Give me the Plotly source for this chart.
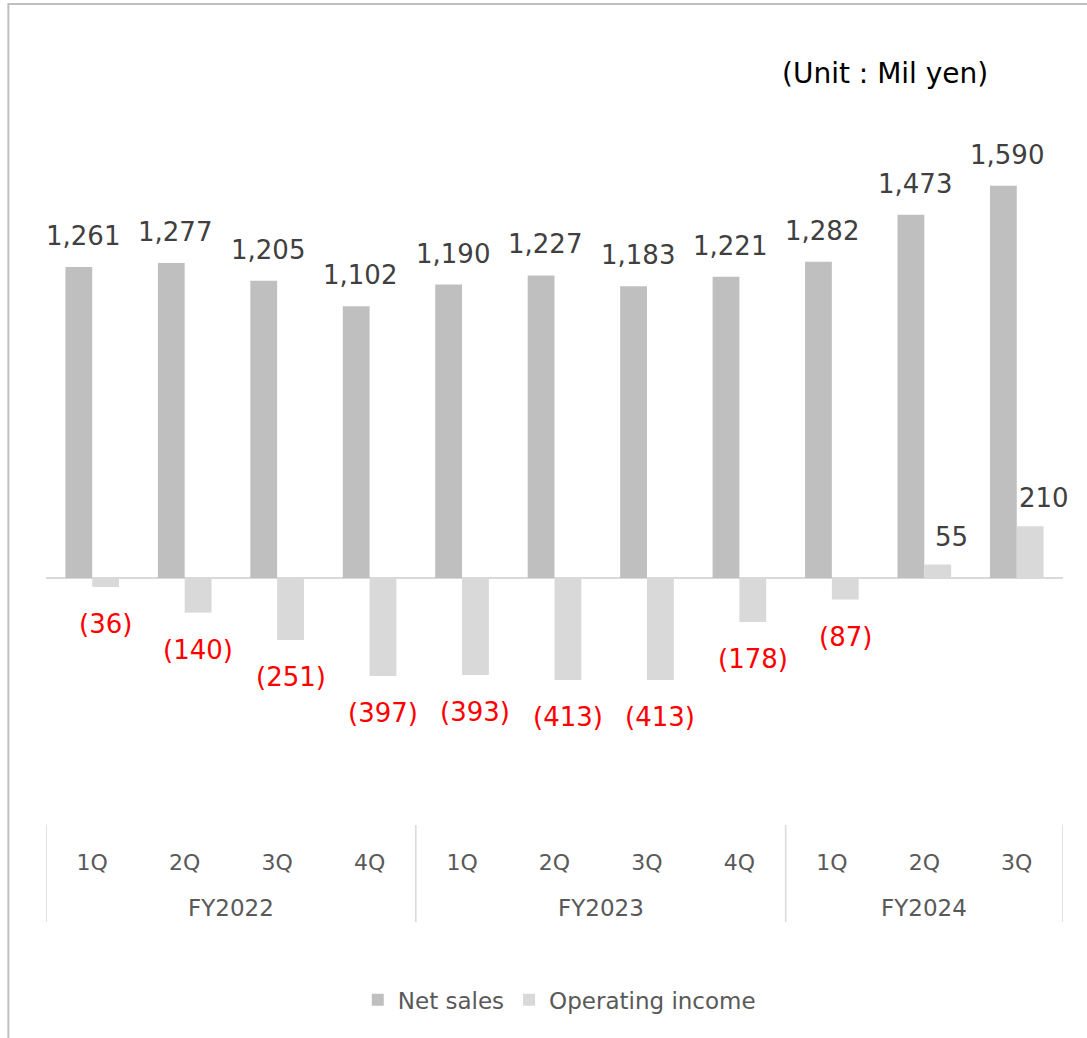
import plotly.graph_objects as go

quarters = ["1Q", "2Q", "3Q", "4Q", "1Q", "2Q", "3Q", "4Q", "1Q", "2Q", "3Q"]
fiscal_years = ["FY2022", "FY2023", "FY2024"]
fy_centers = [1.5, 5.5, 9.0]
fy_bounds = [-0.5, 3.5, 7.5, 10.5]
net_sales = [1261, 1277, 1205, 1102, 1190, 1227, 1183, 1221, 1282, 1473, 1590]
operating_income = [-36, -140, -251, -397, -393, -413, -413, -178, -87, 55, 210]

x = list(range(len(quarters)))
FONT = "DejaVu Sans"
TXT = "#404040"
W = 0.29

fig = go.Figure()
fig.add_trace(go.Bar(x=x, y=net_sales, name="Net sales", marker_color="#bfbfbf",
                     marker_line_width=0))
fig.add_trace(go.Bar(x=x, y=operating_income, name="Operating income", marker_color="#d9d9d9",
                     marker_line_width=0))

def fmt(v):
    return f"{v:,}" if v >= 0 else f"({abs(v):,})"

annotations = []
for i, v in enumerate(net_sales):
    annotations.append(dict(x=i - W / 2, y=v, xref="x", yref="y", text=fmt(v), showarrow=False,
                            yanchor="middle", yshift=31, xshift=4,
                            font=dict(family=FONT, size=26, color=TXT)))
for i, v in enumerate(operating_income):
    if v < 0:
        annotations.append(dict(x=i + W / 2, y=v, xref="x", yref="y", text=fmt(v), showarrow=False,
                                yanchor="middle", yshift=-37,
                                font=dict(family=FONT, size=26, color="#ff0000")))
    else:
        annotations.append(dict(x=i + W / 2, y=v, xref="x", yref="y", text=fmt(v), showarrow=False,
                                yanchor="middle", yshift=28, xshift=14,
                                font=dict(family=FONT, size=26, color=TXT)))

for c, fy in zip(fy_centers, fiscal_years):
    annotations.append(dict(x=c, y=-0.1145, xref="x", yref="paper", text=fy, showarrow=False,
                            yanchor="middle", font=dict(family=FONT, size=23, color="#595959")))

annotations.append(dict(x=0.8246, y=1.0359, xref="paper", yref="paper", text="(Unit : Mil yen)",
                        showarrow=False, yanchor="middle", xanchor="center",
                        font=dict(family=FONT, size=28, color="#000000")))

shapes = []
for b in fy_bounds:
    shapes.append(dict(type="line", xref="x", yref="paper", x0=b, x1=b, y0=0, y1=-0.1338,
                       line=dict(color="#d9d9d9", width=1.5)))
shapes.append(dict(type="rect", xref="paper", yref="paper", x0=-0.037, x1=1.03, y0=-0.31, y1=1.1324,
                   line=dict(color="#bfbfbf", width=2)))

fig.update_layout(
    width=1087, height=1038,
    margin=dict(l=46, r=23.5, t=100, b=213, autoexpand=False),
    paper_bgcolor="white", plot_bgcolor="white",
    barmode="group", bargap=0.42, bargroupgap=0,
    font=dict(family=FONT, color="#595959"),
    showlegend=True,
    legend=dict(orientation="h", x=0.5047, xanchor="center", y=-0.241, yanchor="middle",
                font=dict(family=FONT, size=23, color="#595959"), itemsizing="constant",
                itemwidth=30, tracegroupgap=0, traceorder="normal"),
    annotations=annotations,
    shapes=shapes,
)
fig.update_xaxes(range=[-0.5, 10.5], tickmode="array", tickvals=x, ticktext=quarters,
                 showgrid=False, zeroline=False, showline=False, ticks="",
                 ticklabelstandoff=22, tickfont=dict(family=FONT, size=22, color="#595959"))
fig.update_yaxes(range=[-1001, 1938], showgrid=False, showticklabels=False, ticks="",
                 zeroline=True, zerolinecolor="#d9d9d9", zerolinewidth=1.5, showline=False)

fig.write_html("out.html", config={"displayModeBar": False},
               post_script="document.body.style.margin='0';")
